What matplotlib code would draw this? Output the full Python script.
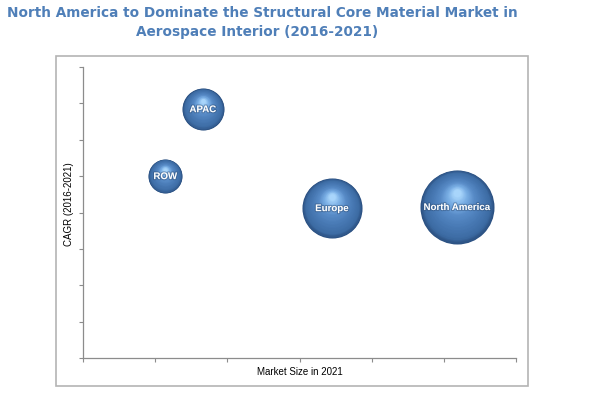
import numpy as np
import matplotlib.pyplot as plt
from matplotlib.colors import LinearSegmentedColormap
from matplotlib.patches import Rectangle
from matplotlib import transforms
import matplotlib.patheffects as pe

# Datos
regions = ['APAC', 'ROW', 'Europe', 'North America']
market_size = [1.66, 1.14, 3.45, 5.18]     # eje x (sin escala)
cagr = [6.84, 5.0, 4.12, 4.15]             # eje y (sin escala)
bubble_size = [915, 600, 1870, 2840]       # area de burbuja (pt^2)

# colores de la esfera: borde oscuro -> brillo
sphere = LinearSegmentedColormap.from_list(
    'sphere', [(0.0, '#2b5081'), (0.12, '#3d6ca4'), (0.35, '#4879b4'),
               (0.6, '#588bc7'), (0.82, '#7aafe5'), (1.0, '#a8d5fb')])

fig = plt.figure(figsize=(6, 3.94), dpi=100)
ax = fig.add_axes([83 / 600, 36 / 394, 433 / 600, 291 / 394])

# marco exterior
fig.patches.append(Rectangle((56 / 600, 8 / 394), 472 / 600, 330 / 394,
                             transform=fig.transFigure, fill=False,
                             edgecolor='#b4b4b4', linewidth=1.2))

n = 50
for x, y, s, name in zip(market_size, cagr, bubble_size, regions):
    R = np.sqrt(s) / 2
    for i in range(n):
        t = i / (n - 1)
        r = R * (1 - 0.9 * t)
        dy = 0.38 * R * t
        tr = transforms.offset_copy(ax.transData, fig=fig, x=0, y=dy, units='points')
        ax.scatter([x], [y], s=(2 * r) ** 2, color=sphere(t),
                   linewidths=0, zorder=2, transform=tr)
    ax.text(x, y, name, color='white', fontsize=7, fontweight='bold',
            family='Liberation Sans', ha='center', va='center', zorder=5,
            path_effects=[pe.withStroke(linewidth=1.5, foreground='#2a4a72', alpha=0.45)])

ax.set_xlim(0, 6)
ax.set_ylim(0, 8)
ax.set_xticks(np.arange(0, 7))
ax.set_yticks(np.arange(0, 9))
ax.set_xticklabels([])
ax.set_yticklabels([])
ax.tick_params(direction='out', length=3, width=0.8, color='#8c8c8c')
for side in ['top', 'right']:
    ax.spines[side].set_visible(False)
for side in ['left', 'bottom']:
    ax.spines[side].set_color('#8c8c8c')
    ax.spines[side].set_linewidth(0.9)

ax.set_xlabel('Market Size in 2021', fontsize=7, family='Liberation Sans')
ax.xaxis.set_label_coords(0.5, -0.03)
ax.set_ylabel('CAGR (2016-2021)', fontsize=7, family='Liberation Sans')
ax.yaxis.set_label_coords(-0.02, 0.53)

fig.text(262 / 600, 1 - 13 / 394, 'North America to Dominate the Structural Core Material Market in',
         ha='center', va='center', fontsize=9.8, fontweight='bold', color='#4f7fb8')
fig.text(257 / 600, 1 - 32 / 394, 'Aerospace Interior (2016-2021)',
         ha='center', va='center', fontsize=9.8, fontweight='bold', color='#4f7fb8')

fig.savefig('out.png', dpi=100)
